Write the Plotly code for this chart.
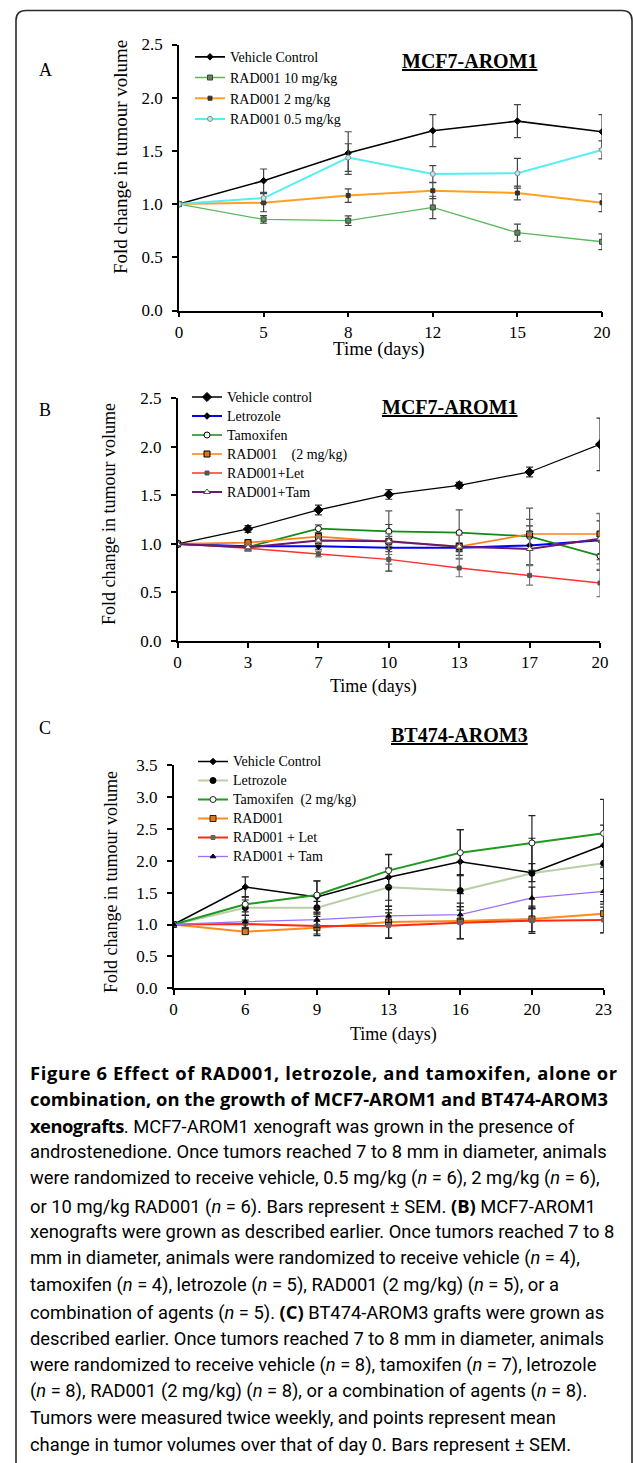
import plotly.graph_objects as go

W, H = 633, 1463

# ---------------- Panel A data ----------------
a_days = ["0", "5", "8", "12", "15", "20"]
a_vehicle = [1.00, 1.22, 1.48, 1.69, 1.78, 1.68]
a_vehicle_err = [0, 0.11, 0.20, 0.15, 0.155, 0.16]
a_rad10 = [1.00, 0.856, 0.844, 0.969, 0.731, 0.646]
a_rad10_err = [0, 0.036, 0.045, 0.105, 0.08, 0.074]
a_rad2 = [1.00, 1.013, 1.08, 1.126, 1.104, 1.013]
a_rad2_err = [0, 0.085, 0.063, 0.075, 0.065, 0.083]
a_rad05 = [1.00, 1.057, 1.437, 1.283, 1.29, 1.51]
a_rad05_err = [0, 0.045, 0.13, 0.078, 0.14, 0.085]
a_names = ["Vehicle Control", "RAD001 10 mg/kg", "RAD001 2 mg/kg", "RAD001 0.5 mg/kg"]

# ---------------- Panel B data ----------------
b_days = ["0", "3", "7", "10", "13", "17", "20"]
b_vehicle = [1.0, 1.154, 1.35, 1.51, 1.604, 1.741, 2.026]
b_vehicle_err = [0, 0.035, 0.05, 0.05, 0.03, 0.05, 0.27]
b_let = [1.0, 0.975, 0.975, 0.96, 0.96, 0.985, 1.037]
b_let_err = [0, 0.04, 0.03, 0.24, 0.04, 0.2, 0.2]
b_tam = [1.0, 0.968, 1.157, 1.13, 1.116, 1.078, 0.876]
b_tam_err = [0, 0.03, 0.04, 0.21, 0.235, 0.29, 0.15]
b_rad = [1.0, 1.013, 1.075, 1.027, 0.972, 1.102, 1.102]
b_rad_err = [0, 0.03, 0.04, 0.05, 0.04, 0.15, 0.21]
b_radlet = [1.0, 0.955, 0.896, 0.841, 0.752, 0.676, 0.597]
b_radlet_err = [0, 0.03, 0.03, 0.05, 0.09, 0.1, 0.14]
b_radtam = [1.0, 0.965, 1.034, 1.027, 0.972, 0.948, 1.054]
b_radtam_err = [0, 0.04, 0.04, 0.08, 0.12, 0.17, 0.26]
b_names = ["Vehicle control", "Letrozole", "Tamoxifen",
           "RAD001\u00a0\u00a0\u00a0\u00a0(2 mg/kg)", "RAD001+Let", "RAD001+Tam"]

# ---------------- Panel C data ----------------
c_days = ["0", "6", "9", "13", "16", "20", "23"]
c_vehicle = [1.0, 1.588, 1.432, 1.74, 1.985, 1.813, 2.241]
c_vehicle_err = [0, 0.16, 0.25, 0.36, 0.5, 0.14, 0.72]
c_let = [1.0, 1.264, 1.264, 1.583, 1.531, 1.802, 1.959]
c_let_err = [0, 0.12, 0.1, 0.3, 0.25, 0.55, 0.6]
c_tam = [1.0, 1.317, 1.463, 1.844, 2.126, 2.278, 2.429]
c_tam_err = [0, 0.12, 0.22, 0.25, 0.36, 0.43, 0.53]
c_rad = [1.0, 0.888, 0.951, 1.04, 1.055, 1.087, 1.17]
c_rad_err = [0, 0.03, 0.1, 0.25, 0.28, 0.2, 0.3]
c_radlet = [1.0, 1.008, 0.977, 0.982, 1.029, 1.06, 1.071]
c_radlet_err = [0, 0.06, 0.15, 0.2, 0.25, 0.2, 0.2]
c_radtam = [1.0, 1.045, 1.076, 1.134, 1.155, 1.416, 1.52]
c_radtam_err = [0, 0.1, 0.12, 0.1, 0.07, 0.17, 0.2]
c_names = ["Vehicle Control", "Letrozole", "Tamoxifen\u00a0\u00a0(2 mg/kg)",
           "RAD001", "RAD001 + Let", "RAD001 + Tam"]


def bold(s, spacing=0.0):
    return ("<span style=\"font-family:'Open Sans';font-weight:bold;"
            f"letter-spacing:{spacing}px\">" + s + "</span>")


caption_lines = [
    bold("Figure 6 Effect of RAD001, letrozole, and tamoxifen, alone or", 0.65),
    bold("combination, on the growth of MCF7-AROM1 and BT474-AROM3", 0.0),
    bold("xenografts", -0.5) + ". MCF7-AROM1 xenograft was grown in the presence of",
    "androstenedione. Once tumors reached 7 to 8 mm in diameter, animals",
    "were randomized to receive vehicle, 0.5 mg/kg (<i>n</i> = 6), 2 mg/kg (<i>n</i> = 6),",
    "or 10 mg/kg RAD001 (<i>n</i> = 6). Bars represent \u00b1 SEM. " + bold("(B)") + " MCF7-AROM1",
    "xenografts were grown as described earlier. Once tumors reached 7 to 8",
    "mm in diameter, animals were randomized to receive vehicle (<i>n</i> = 4),",
    "tamoxifen (<i>n</i> = 4), letrozole (<i>n</i> = 5), RAD001 (2 mg/kg) (<i>n</i> = 5), or a",
    "combination of agents (<i>n</i> = 5). " + bold("(C)") + " BT474-AROM3 grafts were grown as",
    "described earlier. Once tumors reached 7 to 8 mm in diameter, animals",
    "were randomized to receive vehicle (<i>n</i> = 8), tamoxifen (<i>n</i> = 7), letrozole",
    "(<i>n</i> = 8), RAD001 (2 mg/kg) (<i>n</i> = 8), or a combination of agents (<i>n</i> = 8).",
    "Tumors were measured twice weekly, and points represent mean",
    "change in tumor volumes over that of day 0. Bars represent \u00b1 SEM.",
]

SERIF = "Liberation Serif"
SANS = "Roboto"


def px(x):
    return x / W


def py(y):
    return 1 - y / H


fig = go.Figure()


def add(days, vals, errs, name, color, lw, msym, msize, mcolor, mline, ax, leg,
        errcolor="#3a3a3a"):
    fig.add_trace(go.Scatter(
        x=days, y=vals, name='<span style="font-size:14px">' + name + "</span>",
        mode="lines+markers",
        line=dict(color=color, width=lw),
        marker=dict(symbol=msym, size=msize, color=mcolor,
                    line=dict(color=mline, width=1)),
        error_y=dict(type="data", array=errs, visible=True, color=errcolor,
                     thickness=1.2, width=3.5),
        xaxis="x" + ax, yaxis="y" + ax, legend=leg,
    ))


# Panel A
add(a_days, a_vehicle, a_vehicle_err, a_names[0], "#000000", 1.6, "diamond", 5, "#000000", "#000000", "", "legend", "#444444")
add(a_days, a_rad10, a_rad10_err, a_names[1], "#5cb85c", 1.3, "square", 5, "#6b7f6b", "#2f4f2f", "", "legend", "#444444")
add(a_days, a_rad2, a_rad2_err, a_names[2], "#ffa020", 2.0, "square", 4, "#333333", "#333333", "", "legend", "#444444")
add(a_days, a_rad05, a_rad05_err, a_names[3], "#55eef5", 2.0, "circle", 5, "#bfe8ea", "#888888", "", "legend", "#444444")

# Panel B
add(b_days, b_vehicle, b_vehicle_err, b_names[0], "#000000", 1.3, "diamond", 7, "#000000", "#000000", "2", "legend2", "#333333")
add(b_days, b_let, b_let_err, b_names[1], "#0000ff", 2.0, "diamond", 5, "#000000", "#000000", "2", "legend2", "#333333")
add(b_days, b_tam, b_tam_err, b_names[2], "#138a13", 1.7, "circle", 6, "#ffffff", "#000000", "2", "legend2", "#555555")
add(b_days, b_rad, b_rad_err, b_names[3], "#ff7f1a", 1.7, "square", 6, "#e07010", "#000000", "2", "legend2", "#555555")
add(b_days, b_radlet, b_radlet_err, b_names[4], "#ff3030", 1.4, "square", 4, "#555555", "#555555", "2", "legend2", "#777777")
add(b_days, b_radtam, b_radtam_err, b_names[5], "#6a1a6e", 2.0, "triangle-up", 6, "#ffffff", "#555555", "2", "legend2", "#777777")

# Panel C
add(c_days, c_vehicle, c_vehicle_err, c_names[0], "#000000", 1.5, "diamond", 5, "#000000", "#000000", "3", "legend3", "#222222")
add(c_days, c_let, c_let_err, c_names[1], "#b8cfa8", 2.0, "circle", 6, "#000000", "#000000", "3", "legend3", "#222222")
add(c_days, c_tam, c_tam_err, c_names[2], "#1f9a1f", 2.0, "circle", 6, "#ffffff", "#222222", "3", "legend3", "#222222")
add(c_days, c_rad, c_rad_err, c_names[3], "#ff8c1a", 2.0, "square", 6, "#e07a10", "#222222", "3", "legend3", "#222222")
add(c_days, c_radlet, c_radlet_err, c_names[4], "#ff2a10", 2.0, "square", 4, "#666666", "#666666", "3", "legend3", "#222222")
add(c_days, c_radtam, c_radtam_err, c_names[5], "#9d6ff5", 1.3, "triangle-up", 5, "#000000", "#000000", "3", "legend3", "#222222")

axis_common = dict(showline=True, linecolor="#000000", linewidth=1.5,
                   ticks="outside", ticklen=5, tickwidth=1.5, tickcolor="#000000",
                   showgrid=False, zeroline=False, fixedrange=True, automargin=False,
                   tickfont=dict(family=SERIF, size=17, color="#000000"))

panels = {
    "": dict(x0=179, x1=602, ytop=44.5, ybot=310.5, n=len(a_days), ymax=2.5),
    "2": dict(x0=177.6, x1=600, ytop=398.3, ybot=641, n=len(b_days), ymax=2.5),
    "3": dict(x0=173.6, x1=603.6, ytop=765, ybot=988.3, n=len(c_days), ymax=3.5),
}
layout_axes = {}
for k, p in panels.items():
    ticks = [i * 0.5 for i in range(int(p["ymax"] / 0.5) + 1)]
    layout_axes["xaxis" + k] = dict(axis_common, type="category",
                                    domain=[px(p["x0"]), px(p["x1"])],
                                    range=[0, p["n"] - 1], anchor="y" + k)
    layout_axes["yaxis" + k] = dict(axis_common, domain=[py(p["ybot"]), py(p["ytop"])],
                                    range=[0, p["ymax"]], tickvals=ticks,
                                    tickformat=".1f", anchor="x" + k,
                                    ticklabelstandoff=6)

fig.update_layout(**layout_axes)

leg_common = dict(xanchor="left", yanchor="top", bgcolor="rgba(0,0,0,0)",
                  borderwidth=0, tracegroupgap=0, itemwidth=30)
fig.update_layout(
    legend=dict(leg_common, x=px(190), y=py(41.5),
                font=dict(family=SERIF, size=13.6, color="#000000")),
    legend2=dict(leg_common, x=px(187), y=py(382.5),
                 font=dict(family=SERIF, size=12.3, color="#000000")),
    legend3=dict(leg_common, x=px(193), y=py(747),
                 font=dict(family=SERIF, size=12.3, color="#000000")),
)

ann = []


def text(x, y, s, size, family=SERIF, angle=0, xanchor="center", yanchor="middle"):
    ann.append(dict(x=px(x), y=py(y), xref="paper", yref="paper", text=s,
                    showarrow=False, textangle=angle, xanchor=xanchor, yanchor=yanchor,
                    font=dict(family=family, size=size, color="#000000")))


# panel letters
text(45, 70, "A", 18)
text(45, 410, "B", 18)
text(45, 728, "C", 18)
# titles
text(470, 61, "<b><u>MCF7-AROM1</u></b>", 20)
text(450, 407, "<b><u>MCF7-AROM1</u></b>", 20)
text(459, 735, "<b><u>BT474-AROM3</u></b>", 20)
# axis titles
text(121, 157, "Fold change in tumour volume", 19, angle=-90)
text(109, 514, "Fold change in tumour volume", 18, angle=-90)
text(111, 882, "Fold change in tumour volume", 18, angle=-90)
text(379, 349, "Time (days)", 19)
text(373, 687, "Time (days)", 18)
text(393, 1034, "Time (days)", 18)

# caption
for i, line in enumerate(caption_lines):
    text(28, 1072 + i * 26.6, line, 18.35, family=SANS, xanchor="left")

fig.update_layout(annotations=ann)

# rounded frame
r = 10
x0, x1, y0, y1 = 16, 632, 10.5, 1480
path = (f"M {px(x0)},{py(y1)} L {px(x0)},{py(y0 + r)} "
        f"Q {px(x0)},{py(y0)} {px(x0 + r)},{py(y0)} "
        f"L {px(x1 - r)},{py(y0)} Q {px(x1)},{py(y0)} {px(x1)},{py(y0 + r)} "
        f"L {px(x1)},{py(y1)}")
fig.update_layout(shapes=[dict(type="path", path=path, xref="paper", yref="paper",
                               line=dict(color="#2a2a2a", width=1.6))])

fig.update_layout(width=W, height=H, margin=dict(l=0, r=0, t=0, b=0, autoexpand=False),
                  paper_bgcolor="#ffffff", plot_bgcolor="#ffffff",
                  showlegend=True)

fig.write_html("out.html", config={"displayModeBar": False},
               post_script="document.body.style.margin='0';document.body.style.overflow='hidden';")
